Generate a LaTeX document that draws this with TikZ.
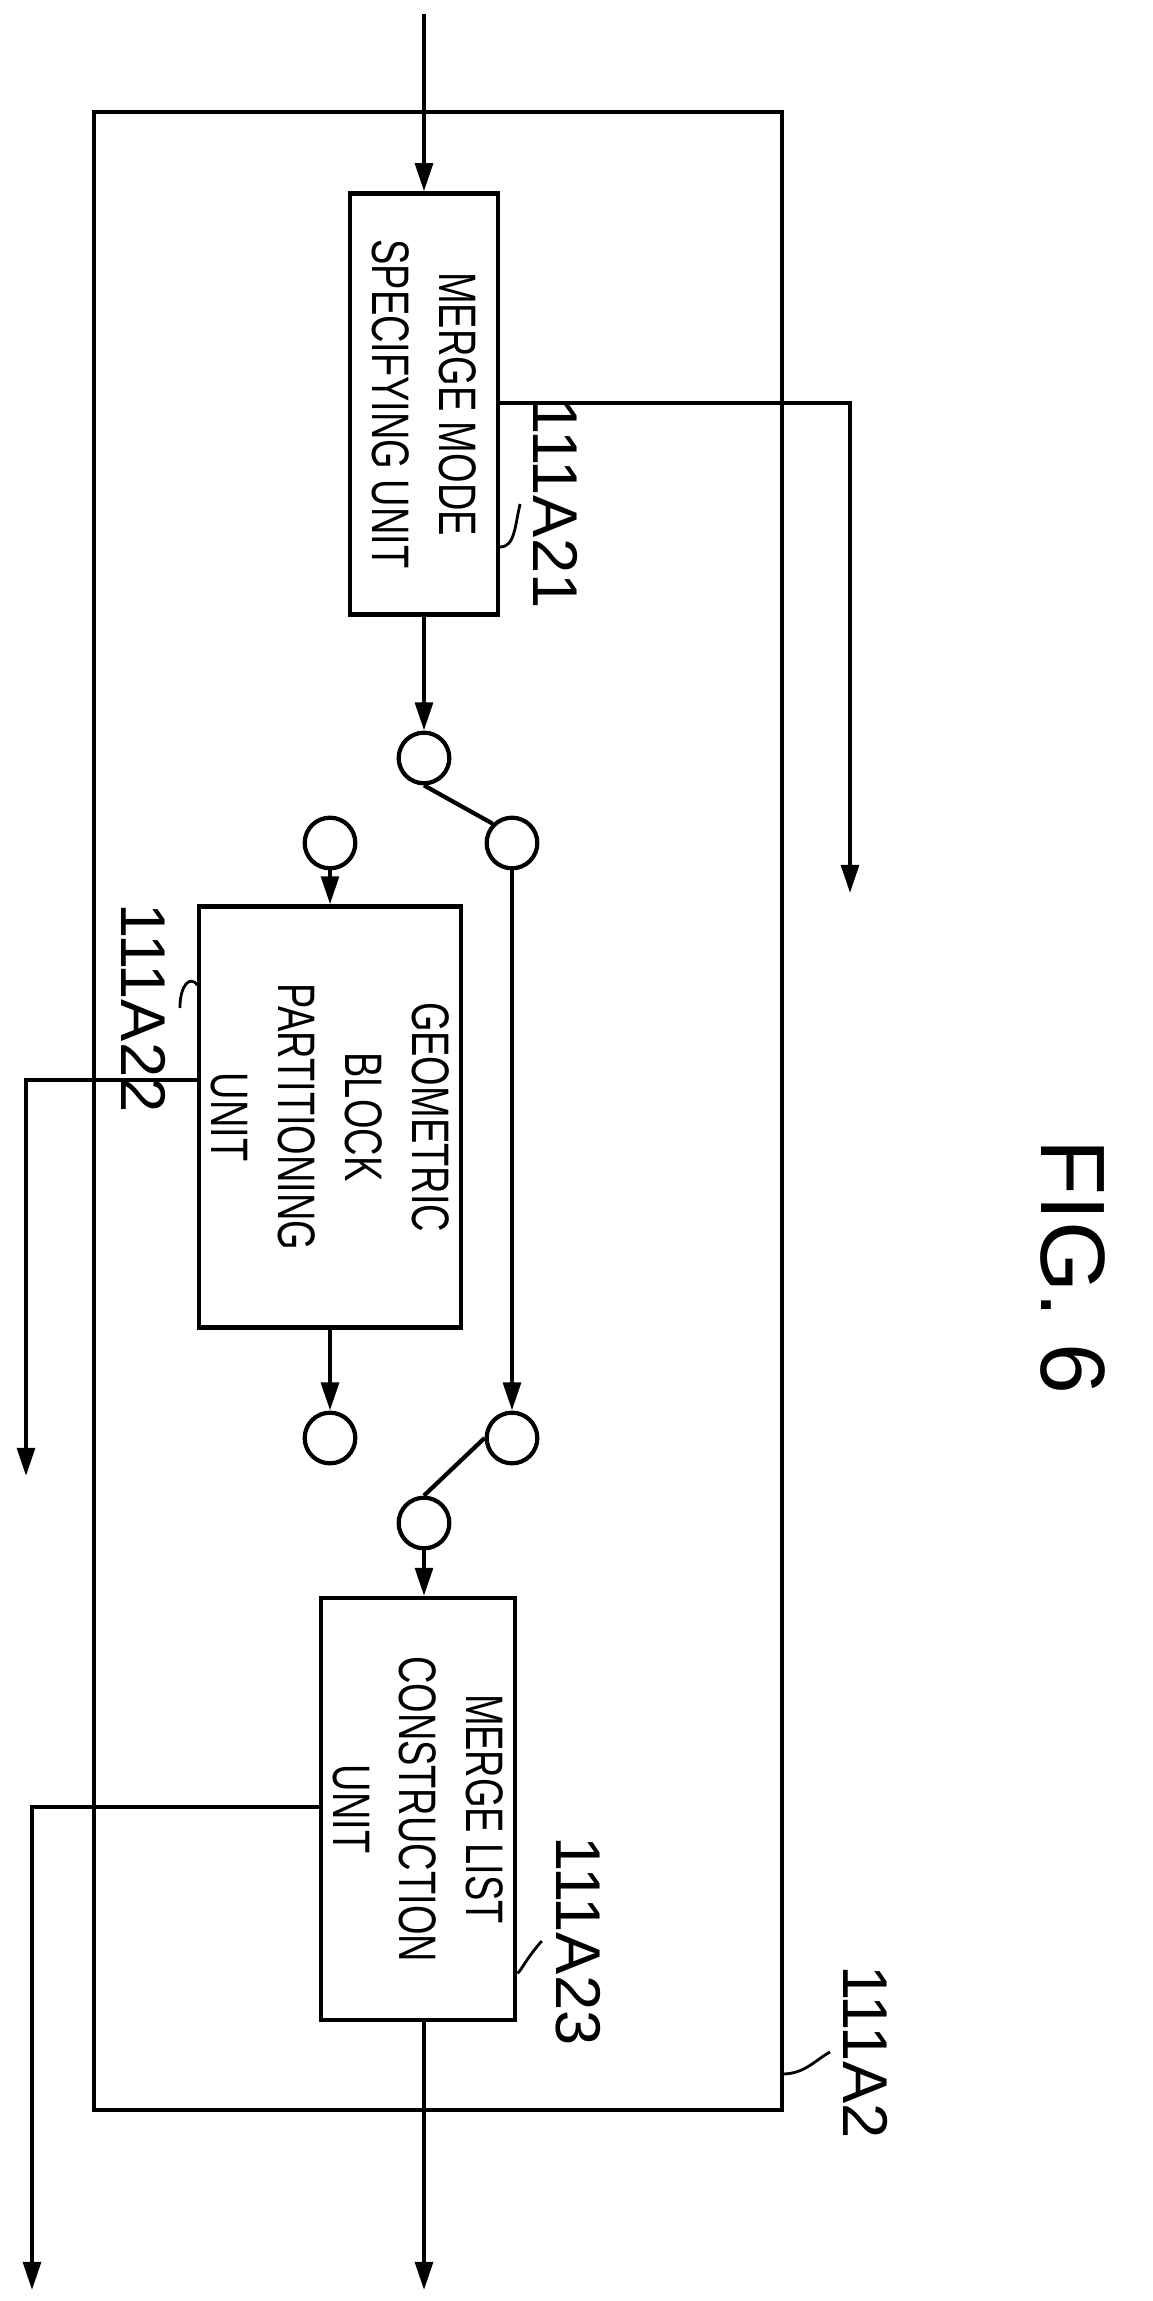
\documentclass[tikz,border=0pt]{standalone}
\usepackage{fontspec}
\setmainfont{Liberation Sans}
\newfontfamily\narrowsans[FakeStretch=0.72]{Liberation Sans}
\usetikzlibrary{arrows.meta}
\tikzset{
	>={Triangle[length=8pt,width=5pt]}, % small filled heads
	unit/.style={draw, line width=1.2pt, rotate=-90, align=center, font=\narrowsans\fontsize{15}{19}\selectfont},
	contact/.style={draw, circle, line width=1.2pt, minimum size=40pt*0.36, inner sep=0pt},
	tag/.style={rotate=-90, font=\fontsize{18}{20}\selectfont},
}
\begin{document}
\begin{tikzpicture}[x=0.01cm, y=-0.01cm, line width=1.2pt]
	\useasboundingbox (0,0) rectangle (1152,2301);
	\draw (94,112) rectangle (782,2110);
	% units (rotated: west = top, east = bottom, north = right, south = left)
	\node[unit, minimum width=421*0.01cm, minimum height=148*0.01cm] (msu) at (424,404) {MERGE MODE\\SPECIFYING UNIT};
	\node[unit, minimum width=421*0.01cm, minimum height=256*0.01cm] (gbp) at (330,1117) {GEOMETRIC\\BLOCK\\PARTITIONING\\UNIT};
	\node[unit, minimum width=422*0.01cm, minimum height=167*0.01cm] (mlc) at (418,1809) {MERGE LIST\\CONSTRUCTION\\UNIT};
	% switch contacts
	\node[contact] (s1) at (424,758) {};
	\node[contact] (s1a) at (330,843) {};
	\node[contact] (s1b) at (512,843) {};
	\node[contact] (s2a) at (330,1438) {};
	\node[contact] (s2b) at (512,1438) {};
	\node[contact] (s2) at (424,1523) {};
	\coordinate (in) at (424,14);
	\coordinate (o1) at (850,893);
	\coordinate (o2) at (26,1476);
	\coordinate (o3) at (32,2290);
	\coordinate (o4) at (424,2290);
	% connectors
	\draw[->] (in) -- (msu.west);
	\draw[->] (msu.east) -- (s1.north);
	\draw (s1.south) -- (s1b.135);
	\draw[->] (s1a.south) -- (s1a |- gbp.west);
	\draw[->] (s1b.south) -- (s2b.north);
	\draw[->] (gbp.east -| s2a) -- (s2a.north);
	\draw (s2.north) -- (s2b.180);
	\draw[->] (s2.south) -- (s2 |- mlc.west);
	\draw[->] (mlc.east -| o4) -- (o4);
	\draw[->] (msu.north |- 0,403) -- (o1 |- 0,403) -- (o1);
	\draw[->] (gbp.south |- 0,1080) -- (o2 |- 0,1080) -- (o2);
	\draw[->] (mlc.south |- 0,1807) -- (o3 |- 0,1807) -- (o3);
	% reference labels
	\node[tag] (t21) at (556,504) {111A21};
	\node[tag] (t22) at (144,1008) {111A22};
	\node[tag] (t23) at (578,1941) {111A23};
	\node[tag] (t2) at (866,2052) {111A2};
	\node[rotate=-90, font=\fontsize{26}{30}\selectfont] (fig) at (1073,1267) {FIG. 6};
	\draw[line width=0.8pt] (msu.north |- 0,547) .. controls (515,547) and (515,525) .. (t21.south);
	\draw[line width=0.8pt] (gbp.south |- 0,985) .. controls (190,975) and (180,985) .. (t22.north);
	\draw[line width=0.8pt] (mlc.north |- 0,1973) .. controls (520,1973) and (525,1960) .. (t23.south);
	\draw[line width=0.8pt] (782,2074) .. controls (805,2074) and (815,2060) .. (t2.south);
\end{tikzpicture}
\end{document}
